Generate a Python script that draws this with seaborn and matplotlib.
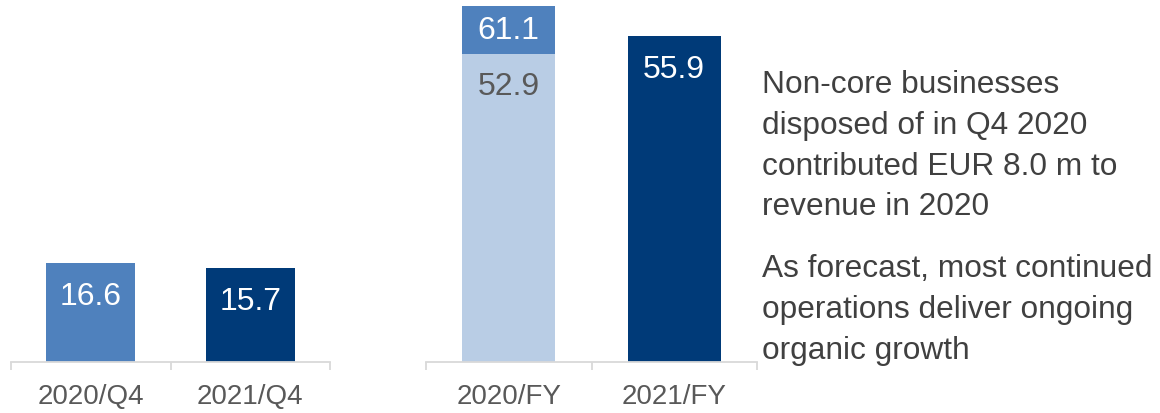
import matplotlib
matplotlib.use("Agg")
import matplotlib.pyplot as plt
import seaborn as sns

sns.set_theme(style="white")
plt.rcParams["font.family"] = ["Liberation Sans", "DejaVu Sans"]

# Revenue, EUR m
quarters = ["2020/Q4", "2021/Q4"]
quarter_revenue = [16.6, 15.7]
years = ["2020/FY", "2021/FY"]
year_revenue = [61.1, 55.9]
continued_2020 = 52.9  # 2020 revenue from continued operations

notes = [
    ["Non-core businesses", "disposed of in Q4 2020", "contributed EUR 8.0 m to", "revenue in 2020"],
    ["As forecast, most continued", "operations deliver ongoing", "organic growth"],
]

MID = "#4F81BD"
NAVY = "#003A78"
LIGHT = "#B9CDE5"
AXIS = "#D9D9D9"
TICK_TXT = "#595959"
NOTE_TXT = "#404040"

W, H = 1160, 414
fig = plt.figure(figsize=(W / 100, H / 100), dpi=100)

base = 51 / H
ax_q = fig.add_axes([11 / W, base, 319 / W, 363 / H])
ax_y = fig.add_axes([426 / W, base, 331 / W, 363 / H])

bar_kw = dict(width=0.56, saturation=1, linewidth=0)
sns.barplot(x=quarters, y=quarter_revenue, hue=quarters, palette=[MID, NAVY],
            legend=False, ax=ax_q, **bar_kw)
sns.barplot(x=years, y=year_revenue, hue=years, palette=[MID, NAVY],
            legend=False, ax=ax_y, **bar_kw)
# continued-operations part of 2020 drawn over the full-year bar
sns.barplot(x=[years[0]], y=[continued_2020], color=LIGHT, ax=ax_y,
            order=years, **bar_kw)

ax_q.set_ylim(0, 60.9)
ax_y.set_ylim(0, 62.3)

for ax in (ax_q, ax_y):
    ax.set_xlim(-0.5, 1.5)
    ax.set_xlabel("")
    ax.set_ylabel("")
    ax.set_yticks([])
    for s in ("left", "right", "top"):
        ax.spines[s].set_visible(False)
    ax.spines["bottom"].set_color(AXIS)
    ax.spines["bottom"].set_linewidth(1.3)
    ax.set_xticks([-0.5, 0.5, 1.5], minor=True)
    ax.tick_params(axis="x", which="minor", bottom=True, length=6, width=1.3,
                   color=AXIS, direction="out")
    ax.tick_params(axis="x", which="major", bottom=False, length=0, pad=15,
                   labelsize=20, labelcolor=TICK_TXT)
    ax.set_facecolor("none")

lab = dict(ha="center", va="center", fontsize=23, textcoords="offset points")
for i, v in enumerate(quarter_revenue):
    ax_q.annotate(f"{v:.1f}", (i, v), xytext=(0, -23.5), color="white", **lab)
ax_y.annotate(f"{year_revenue[0]:.1f}", (0, (year_revenue[0] + continued_2020) / 2),
              xytext=(0, 0), color="white", **lab)
ax_y.annotate(f"{continued_2020:.1f}", (0, continued_2020), xytext=(0, -23.5),
              color=TICK_TXT, **lab)
ax_y.annotate(f"{year_revenue[1]:.1f}", (1, year_revenue[1]), xytext=(0, -23.5),
              color="white", **lab)

# commentary next to the chart, one baseline per line
baselines = [[93, 134, 175, 215], [277, 318, 359]]
for para, ys in zip(notes, baselines):
    for line, yb in zip(para, ys):
        fig.text(762 / W, 1 - yb / H, line, ha="left", va="baseline",
                 fontsize=22.8, color=NOTE_TXT)

fig.savefig("out.png", dpi=100)
